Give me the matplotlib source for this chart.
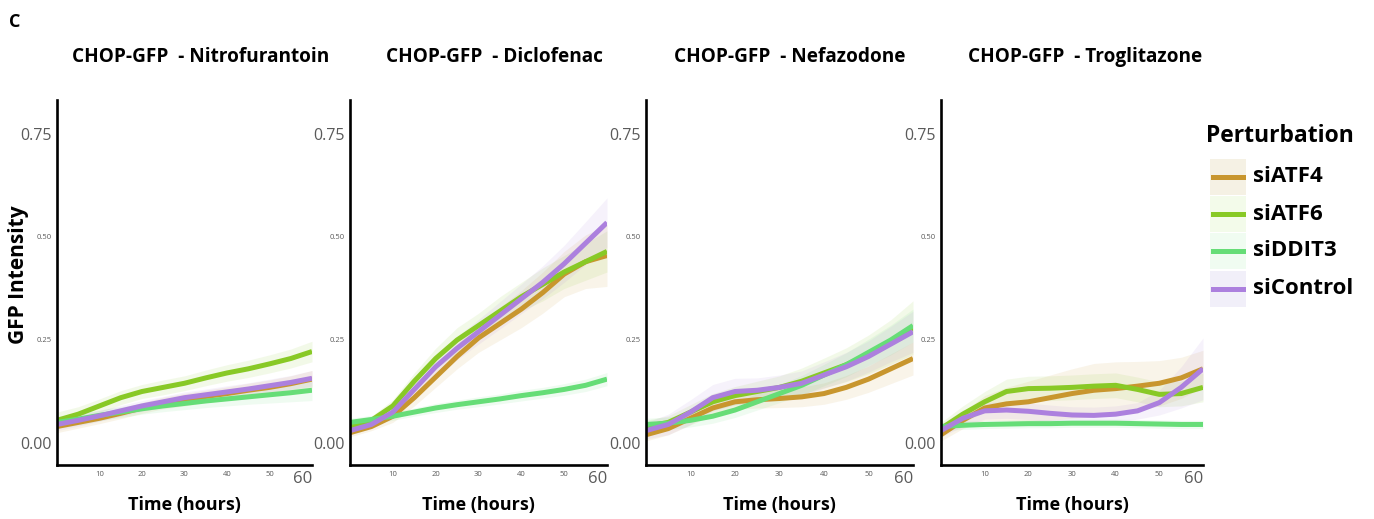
import numpy as np
import matplotlib
matplotlib.use('Agg')
import matplotlib.pyplot as plt
from matplotlib.patches import Rectangle
from matplotlib.lines import Line2D

plt.rcParams['font.family'] = ['Open Sans', 'DejaVu Sans']

# ---------------- data ----------------
time_h = [0, 5, 10, 15, 20, 25, 30, 35, 40, 45, 50, 55, 60]
drugs = ['Nitrofurantoin', 'Diclofenac', 'Nefazodone', 'Troglitazone']
perturbations = ['siATF4', 'siATF6', 'siDDIT3', 'siControl']
line_colors = ['#C8962E', '#88C926', '#66DD77', '#AC80DE']
key_colors = ['#F5F1E4', '#F3FBEA', '#F0FCF1', '#F1EFF9']

y_ticks = [0.00, 0.25, 0.50, 0.75]
y_tick_labels = ['0.00', '0.25', '0.50', '0.75']
x_ticks = [10, 20, 30, 40, 50, 60]
x_tick_labels = ['10', '20', '30', '40', '50', '60']

# mean curves
nitro_siATF4 = [.040, .050, .060, .072, .085, .097, .105, .113, .120, .128, .135, .144, .155]
nitro_siATF6 = [.055, .070, .090, .110, .125, .135, .145, .158, .170, .180, .192, .205, .222]
nitro_siDDIT3 = [.050, .058, .067, .075, .083, .090, .096, .102, .107, .112, .117, .122, .128]
nitro_siControl = [.045, .055, .066, .078, .090, .100, .110, .117, .124, .131, .139, .147, .157]

diclo_siATF4 = [.025, .040, .065, .110, .160, .210, .255, .290, .325, .365, .410, .440, .455]
diclo_siATF6 = [.040, .055, .090, .150, .205, .250, .285, .320, .355, .385, .415, .440, .465]
diclo_siDDIT3 = [.050, .057, .065, .075, .085, .093, .100, .107, .115, .122, .130, .140, .155]
diclo_siControl = [.030, .045, .075, .130, .185, .230, .270, .310, .350, .390, .435, .485, .535]

nefa_siATF4 = [.020, .035, .060, .085, .100, .105, .108, .112, .120, .135, .155, .180, .205]
nefa_siATF6 = [.040, .050, .075, .100, .115, .125, .135, .150, .170, .190, .215, .245, .280]
nefa_siDDIT3 = [.045, .048, .055, .065, .080, .100, .120, .140, .165, .190, .220, .250, .285]
nefa_siControl = [.030, .045, .075, .110, .125, .128, .135, .145, .165, .185, .210, .240, .270]

trog_siATF4 = [.020, .055, .085, .095, .100, .110, .120, .128, .132, .138, .145, .158, .180]
trog_siATF6 = [.035, .070, .100, .125, .132, .133, .135, .138, .140, .130, .118, .120, .135]
trog_siDDIT3 = [.040, .043, .045, .046, .047, .047, .048, .048, .048, .047, .046, .045, .045]
trog_siControl = [.030, .060, .078, .080, .077, .072, .068, .067, .070, .078, .098, .135, .180]

# confidence band half-widths
nitro_siATF4_ci = [.015, .014, .013, .013, .013, .014, .015, .015, .016, .017, .018, .019, .021]
nitro_siATF6_ci = [.020, .018, .017, .017, .017, .018, .018, .019, .020, .021, .022, .023, .025]
nitro_siDDIT3_ci = [.015, .014, .013, .013, .013, .014, .015, .016, .017, .018, .020, .022, .025]
nitro_siControl_ci = [.015, .014, .013, .013, .013, .013, .014, .014, .015, .015, .016, .017, .019]

diclo_siATF4_ci = [.010, .010, .015, .020, .025, .030, .035, .040, .045, .050, .055, .065, .075]
diclo_siATF6_ci = [.010, .010, .015, .020, .025, .030, .030, .035, .035, .040, .040, .045, .050]
diclo_siDDIT3_ci = [.010, .010, .010, .010, .011, .011, .012, .012, .013, .013, .014, .015, .016]
diclo_siControl_ci = [.010, .010, .015, .020, .025, .028, .030, .033, .036, .040, .045, .052, .060]

nefa_siATF4_ci = [.015, .015, .016, .017, .018, .020, .022, .024, .026, .029, .032, .036, .040]
nefa_siATF6_ci = [.015, .016, .018, .020, .022, .025, .028, .032, .036, .041, .047, .054, .065]
nefa_siDDIT3_ci = [.015, .015, .016, .017, .018, .020, .022, .024, .026, .029, .032, .036, .040]
nefa_siControl_ci = [.020, .025, .030, .032, .032, .030, .030, .030, .032, .035, .038, .043, .050]

trog_siATF4_ci = [.015, .020, .030, .040, .050, .055, .060, .065, .065, .060, .055, .050, .045]
trog_siATF6_ci = [.015, .020, .025, .030, .030, .030, .030, .030, .030, .030, .030, .030, .035]
trog_siDDIT3_ci = [.010, .010, .010, .010, .010, .010, .010, .010, .010, .010, .010, .010, .010]
trog_siControl_ci = [.015, .020, .020, .020, .020, .020, .020, .020, .020, .020, .030, .050, .075]

panel_means = [
    [nitro_siATF4, nitro_siATF6, nitro_siDDIT3, nitro_siControl],
    [diclo_siATF4, diclo_siATF6, diclo_siDDIT3, diclo_siControl],
    [nefa_siATF4, nefa_siATF6, nefa_siDDIT3, nefa_siControl],
    [trog_siATF4, trog_siATF6, trog_siDDIT3, trog_siControl],
]
panel_cis = [
    [nitro_siATF4_ci, nitro_siATF6_ci, nitro_siDDIT3_ci, nitro_siControl_ci],
    [diclo_siATF4_ci, diclo_siATF6_ci, diclo_siDDIT3_ci, diclo_siControl_ci],
    [nefa_siATF4_ci, nefa_siATF6_ci, nefa_siDDIT3_ci, nefa_siControl_ci],
    [trog_siATF4_ci, trog_siATF6_ci, trog_siDDIT3_ci, trog_siControl_ci],
]

# ---------------- layout ----------------
W, H = 1374, 519
fig = plt.figure(figsize=(W / 100, H / 100), dpi=100)

panel_px = [(57, 312), (350, 607), (646, 913), (941, 1203)]  # left spine, right end
title_cx = [201, 494, 790, 1085]
top_px, bot_px = 100, 465
ymin, ymax = -0.0534, 0.8325

t = np.array(time_h)
for i, drug in enumerate(drugs):
    l, r = panel_px[i]
    ax = fig.add_axes([l / W, (H - bot_px) / H, (r - l) / W, (bot_px - top_px) / H])
    for j, pert in enumerate(perturbations):
        m = np.array(panel_means[i][j])
        c = np.array(panel_cis[i][j])
        ax.fill_between(t, m - c, m + c, color=line_colors[j], alpha=0.10, lw=0)
    for j, pert in enumerate(perturbations):
        ax.plot(t, panel_means[i][j], color=line_colors[j], lw=3.6,
                solid_capstyle='butt', solid_joinstyle='round')
    ax.set_xlim(0, 60)
    ax.set_ylim(ymin, ymax)
    for s in ['top', 'right']:
        ax.spines[s].set_visible(False)
    for s in ['left', 'bottom']:
        ax.spines[s].set_linewidth(1.9)
        ax.spines[s].set_color('black')
    ax.set_yticks(y_ticks)
    ax.set_yticklabels(y_tick_labels)
    ax.set_xticks(x_ticks)
    ax.set_xticklabels(x_tick_labels)
    ax.tick_params(length=0, colors='#5a5a5a', pad=4)
    for k, lab in enumerate(ax.get_yticklabels()):
        lab.set_fontsize(11.5 if k in (0, 3) else 5.5)
    for k, lab in enumerate(ax.get_xticklabels()):
        if k == 5:
            lab.set_fontsize(12)
            lab.set_horizontalalignment('right')
        else:
            lab.set_fontsize(5.5)
    ax.tick_params(axis='x', pad=4)
    ax.patch.set_alpha(0)
    ax.text((title_cx[i] - l) / (r - l), (bot_px - 57) / (bot_px - top_px),
            'CHOP-GFP  - ' + drug, transform=ax.transAxes, ha='center',
            va='center', fontsize=13.7, fontweight='bold')
    ax.set_xlabel('Time (hours)', fontsize=13, fontweight='bold', labelpad=7)

# overlay for free text and legend
ov = fig.add_axes([0, 0, 1, 1])
ov.set_xlim(0, W)
ov.set_ylim(H, 0)
ov.axis('off')
ov.patch.set_alpha(0)

ov.text(9, 22, 'C', fontsize=13, fontweight='bold', ha='left', va='center')
ov.text(19, 275, 'GFP Intensity', rotation=90, fontsize=15, fontweight='bold',
        ha='center', va='center')

ov.text(1206, 136, 'Perturbation', fontsize=16.5, fontweight='bold',
        ha='left', va='center')
key_y = [177, 214, 251, 289]
for j, pert in enumerate(perturbations):
    yc = key_y[j]
    ov.add_patch(Rectangle((1210, yc - 18), 36, 36, facecolor=key_colors[j],
                           edgecolor='none'))
    ov.add_line(Line2D([1213, 1243], [yc, yc], color=line_colors[j], lw=3.6))
    ov.text(1253, yc, pert, fontsize=16, fontweight='bold', ha='left',
            va='center')

fig.savefig('out.png', dpi=100)
